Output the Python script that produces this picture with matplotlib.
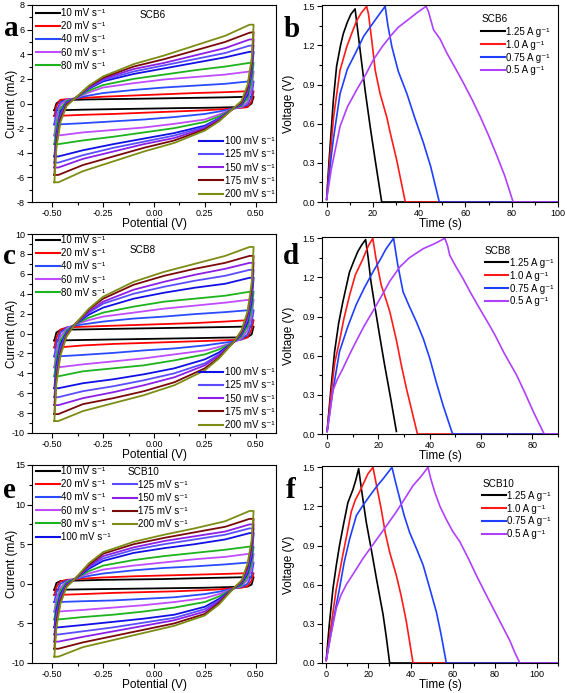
import matplotlib
matplotlib.use("Agg")
import matplotlib.pyplot as plt
from matplotlib.ticker import MultipleLocator, AutoMinorLocator, FormatStrFormatter
from matplotlib.lines import Line2D
from matplotlib.legend import Legend

plt.rcParams['font.family'] = ['Liberation Sans', 'DejaVu Sans']
plt.rcParams['axes.unicode_minus'] = False

# ---- CV data ----
rates = [10, 20, 40, 60, 80, 100, 125, 150, 175, 200]
cv_colors = ['black', '#ff0000', '#2a4bff', '#c04cff', '#1db31d',
             '#1010e6', '#5b4dff', '#8c1fe6', '#7a0a0a', '#7d8c14']

# potentials of the forward (upper) and reverse (lower) branch
E_up = [-0.49, -0.48, -0.46, -0.43, -0.39, -0.32, -0.25, -0.10, 0.05, 0.20, 0.35, 0.47]
E_dn = [0.49, 0.48, 0.46, 0.43, 0.39, 0.32, 0.25, 0.10, -0.05, -0.20, -0.35, -0.47]

# SCB6
cv_a_up = [
    [-0.55, 0.0, 0.25, 0.3, 0.3, 0.33, 0.35, 0.38, 0.42, 0.46, 0.5, 0.55],
    [-1.0, -0.2, 0.3, 0.35, 0.4, 0.48, 0.55, 0.65, 0.75, 0.85, 0.92, 1.0],
    [-1.7, -0.6, 0.1, 0.3, 0.4, 0.65, 0.85, 1.1, 1.3, 1.45, 1.6, 1.8],
    [-2.6, -1.2, -0.1, 0.3, 0.4, 0.9, 1.3, 1.65, 1.95, 2.15, 2.35, 2.6],
    [-3.3, -1.8, -0.4, 0.2, 0.4, 1.05, 1.5, 2.0, 2.35, 2.7, 3.0, 3.3],
    [-4.3, -2.5, -0.7, 0.1, 0.4, 1.2, 1.8, 2.4, 2.85, 3.3, 3.75, 4.2],
    [-4.8, -2.8, -0.9, 0.05, 0.4, 1.25, 1.9, 2.6, 3.1, 3.6, 4.1, 4.7],
    [-5.2, -3.0, -1.1, 0.0, 0.4, 1.3, 2.0, 2.8, 3.3, 3.9, 4.5, 5.2],
    [-5.8, -3.3, -1.3, -0.1, 0.4, 1.4, 2.1, 3.0, 3.6, 4.3, 5.0, 5.75],
    [-6.4, -3.6, -1.5, -0.2, 0.4, 1.45, 2.2, 3.2, 3.9, 4.7, 5.5, 6.4],
]
cv_a_dn = [
    [0.55, 0.0, -0.25, -0.3, -0.3, -0.33, -0.35, -0.38, -0.42, -0.46, -0.5, -0.55],
    [1.0, 0.2, -0.3, -0.35, -0.4, -0.48, -0.55, -0.65, -0.75, -0.85, -0.92, -1.0],
    [1.8, 0.6, -0.1, -0.3, -0.4, -0.65, -0.85, -1.1, -1.3, -1.45, -1.6, -1.7],
    [2.6, 1.2, 0.1, -0.3, -0.4, -0.9, -1.3, -1.65, -1.95, -2.15, -2.35, -2.6],
    [3.3, 1.8, 0.4, -0.2, -0.4, -1.05, -1.5, -2.0, -2.35, -2.7, -3.0, -3.3],
    [4.2, 2.5, 0.7, -0.1, -0.4, -1.2, -1.8, -2.4, -2.85, -3.3, -3.8, -4.3],
    [4.7, 2.8, 0.9, -0.05, -0.4, -1.25, -1.9, -2.6, -3.1, -3.6, -4.2, -4.8],
    [5.2, 3.0, 1.1, 0.0, -0.4, -1.3, -2.0, -2.8, -3.3, -3.9, -4.5, -5.2],
    [5.8, 3.3, 1.3, 0.1, -0.4, -1.4, -2.1, -3.0, -3.6, -4.3, -5.0, -5.8],
    [6.4, 3.6, 1.5, 0.2, -0.4, -1.45, -2.2, -3.2, -3.9, -4.7, -5.5, -6.4],
]

# SCB8
cv_c_up = [
    [-0.7, 0.1, 0.35, 0.4, 0.4, 0.42, 0.45, 0.5, 0.55, 0.6, 0.65, 0.7],
    [-1.4, -0.4, 0.4, 0.6, 0.65, 0.7, 0.75, 0.85, 0.95, 1.05, 1.2, 1.35],
    [-2.3, -1.0, 0.1, 0.6, 0.8, 1.0, 1.2, 1.5, 1.7, 1.95, 2.15, 2.35],
    [-3.4, -1.7, -0.3, 0.5, 0.9, 1.35, 1.7, 2.1, 2.5, 2.8, 3.1, 3.4],
    [-4.3, -2.4, -0.7, 0.3, 0.9, 1.6, 2.1, 2.7, 3.2, 3.5, 3.8, 4.2],
    [-5.5, -3.2, -1.1, 0.1, 0.9, 1.9, 2.6, 3.5, 4.1, 4.6, 5.0, 5.6],
    [-6.4, -3.7, -1.4, 0.0, 0.9, 2.1, 3.0, 4.0, 4.7, 5.3, 5.8, 6.4],
    [-7.2, -4.2, -1.7, -0.1, 0.9, 2.2, 3.2, 4.4, 5.2, 5.9, 6.5, 7.1],
    [-8.1, -4.6, -2.0, -0.2, 0.9, 2.4, 3.5, 4.9, 5.8, 6.5, 7.1, 7.8],
    [-8.8, -5.0, -2.2, -0.3, 0.9, 2.5, 3.7, 5.2, 6.2, 7.0, 7.8, 8.7],
]
cv_c_dn = [
    [0.7, -0.1, -0.35, -0.4, -0.4, -0.42, -0.45, -0.5, -0.55, -0.6, -0.65, -0.7],
    [1.35, 0.4, -0.4, -0.6, -0.65, -0.7, -0.75, -0.85, -0.95, -1.05, -1.2, -1.4],
    [2.35, 1.0, -0.1, -0.6, -0.8, -1.0, -1.2, -1.5, -1.7, -1.95, -2.15, -2.3],
    [3.4, 1.7, 0.3, -0.5, -0.9, -1.35, -1.7, -2.1, -2.5, -2.8, -3.1, -3.4],
    [4.2, 2.4, 0.7, -0.3, -0.9, -1.6, -2.1, -2.7, -3.2, -3.5, -3.8, -4.3],
    [5.6, 3.2, 1.1, -0.1, -0.9, -1.9, -2.6, -3.5, -4.1, -4.6, -5.0, -5.5],
    [6.4, 3.7, 1.4, 0.0, -0.9, -2.1, -3.0, -4.0, -4.7, -5.3, -5.8, -6.4],
    [7.1, 4.2, 1.7, 0.1, -0.9, -2.2, -3.2, -4.4, -5.2, -5.9, -6.5, -7.2],
    [7.8, 4.6, 2.0, 0.2, -0.9, -2.4, -3.5, -4.9, -5.8, -6.5, -7.1, -8.1],
    [8.7, 5.0, 2.2, 0.3, -0.9, -2.5, -3.7, -5.2, -6.2, -7.0, -7.8, -8.8],
]

# SCB10
cv_e_up = [
    [-0.75, 0.1, 0.35, 0.4, 0.4, 0.45, 0.5, 0.55, 0.6, 0.7, 0.78, 0.85],
    [-1.4, -0.4, 0.3, 0.5, 0.55, 0.7, 0.8, 0.95, 1.05, 1.15, 1.25, 1.35],
    [-2.3, -1.1, 0.0, 0.4, 0.6, 1.0, 1.3, 1.7, 2.0, 2.2, 2.45, 2.7],
    [-3.5, -1.9, -0.5, 0.3, 0.6, 1.3, 1.8, 2.3, 2.7, 3.1, 3.4, 3.8],
    [-4.5, -2.6, -0.9, 0.2, 0.6, 1.6, 2.3, 3.0, 3.5, 3.9, 4.3, 4.7],
    [-5.5, -3.3, -1.3, 0.0, 0.6, 1.9, 2.9, 3.9, 4.5, 5.0, 5.6, 6.4],
    [-6.4, -3.9, -1.6, -0.1, 0.6, 2.1, 3.2, 4.3, 5.0, 5.6, 6.2, 7.0],
    [-7.3, -4.4, -1.9, -0.2, 0.6, 2.2, 3.5, 4.6, 5.4, 6.0, 6.6, 7.5],
    [-8.2, -5.0, -2.2, -0.3, 0.6, 2.4, 3.8, 5.0, 5.8, 6.5, 7.2, 8.2],
    [-9.2, -5.5, -2.5, -0.4, 0.6, 2.6, 4.0, 5.3, 6.2, 7.0, 7.9, 9.2],
]
cv_e_dn = [
    [0.85, -0.1, -0.35, -0.4, -0.4, -0.45, -0.5, -0.55, -0.6, -0.65, -0.7, -0.75],
    [1.35, 0.4, -0.3, -0.5, -0.55, -0.7, -0.8, -0.95, -1.05, -1.15, -1.3, -1.4],
    [2.7, 1.1, 0.0, -0.4, -0.6, -1.0, -1.3, -1.7, -1.9, -2.1, -2.2, -2.3],
    [3.8, 1.9, 0.5, -0.3, -0.6, -1.3, -1.8, -2.3, -2.7, -3.0, -3.3, -3.5],
    [4.7, 2.6, 0.9, -0.2, -0.6, -1.6, -2.3, -3.0, -3.5, -3.9, -4.2, -4.5],
    [6.4, 3.3, 1.3, 0.0, -0.6, -1.9, -2.9, -3.9, -4.4, -4.8, -5.2, -5.5],
    [7.0, 3.9, 1.6, 0.1, -0.6, -2.1, -3.2, -4.3, -4.9, -5.5, -6.0, -6.4],
    [7.5, 4.4, 1.9, 0.2, -0.6, -2.2, -3.5, -4.6, -5.3, -6.0, -6.7, -7.3],
    [8.2, 5.0, 2.2, 0.3, -0.6, -2.4, -3.8, -5.0, -5.8, -6.6, -7.4, -8.2],
    [9.2, 5.5, 2.5, 0.4, -0.6, -2.6, -4.0, -5.3, -6.2, -7.1, -8.0, -9.2],
]

# ---- GCD data ----
gcd_labels = ['1.25 A g⁻¹', '1.0 A g⁻¹', '0.75 A g⁻¹', '0.5 A g⁻¹']
gcd_colors = ['black', '#ff1a1a', '#1f3fff', '#b040ff']

# SCB6
t_b = [
    [0, 1, 2, 2.9, 4.3, 6, 7.2, 9, 10.5, 12.3, 14.5, 16.6, 18.8, 21, 23.8, 100],
    [0, 1.5, 3, 5.8, 8.7, 11, 13, 15, 17.3, 18.1, 19.5, 21, 23.1, 26, 27.5, 30.3, 34, 100],
    [0, 2, 2.9, 5.8, 9, 13, 16, 18.8, 22, 25.3, 26.5, 28.2, 31, 34.7, 38, 41.9, 45, 48.7, 100],
    [0, 2, 5.8, 9, 13, 17, 20.2, 24, 27.5, 31, 34.7, 39, 43, 44, 46.2, 49, 52, 55.5,
     59.2, 63, 66.5, 70, 73.7, 77, 80.6, 100],
]
v_b = [
    [0.02, 0.3, 0.55, 0.78, 1.04, 1.2, 1.29, 1.38, 1.44, 1.48, 1.16, 0.86, 0.58, 0.32, 0.0, 0.0],
    [0.02, 0.35, 0.65, 1.01, 1.19, 1.3, 1.39, 1.45, 1.5, 1.44, 1.24, 1.01, 0.83, 0.65, 0.53, 0.32, 0.0, 0.0],
    [0.02, 0.35, 0.48, 0.83, 1.02, 1.16, 1.27, 1.34, 1.42, 1.5, 1.35, 1.19, 1.0, 0.83, 0.65, 0.45, 0.27, 0.0, 0.0],
    [0.02, 0.25, 0.58, 0.73, 0.86, 0.98, 1.09, 1.19, 1.27, 1.34, 1.39, 1.45, 1.5, 1.46, 1.32, 1.25,
     1.14, 1.03, 0.91, 0.78, 0.65, 0.51, 0.35, 0.2, 0.0, 0.0],
]

# SCB8
t_d = [
    [0, 1.5, 2.9, 4.5, 6.1, 8.7, 10.5, 12, 13.5, 15, 16, 17, 18.5, 20.5, 22.4, 24.8, 27],
    [0, 1.5, 3, 4.8, 6.5, 8.7, 11, 13.9, 16, 17.8, 19, 21.1, 22.8, 24.4, 27, 29, 30.9, 33, 35.2, 90],
    [0, 2, 4.8, 8, 11.3, 14.5, 17.8, 20.5, 23, 25.9, 27.5, 29.6, 32, 34.8, 37.5, 40, 42.5, 45.2, 48.9, 90],
    [0, 1, 2.2, 4, 6.1, 8.5, 11.3, 14.5, 17.8, 21, 24.4, 28.3, 32, 37.4, 42, 45.9, 47, 47.8, 50,
     53, 56, 59.5, 62.5, 65.4, 69, 73.9, 77, 80.4, 84.6, 90],
]
v_d = [
    [0.02, 0.35, 0.63, 0.85, 1.01, 1.24, 1.33, 1.4, 1.45, 1.49, 1.35, 1.18, 0.99, 0.75, 0.53, 0.27, 0.02],
    [0.02, 0.3, 0.55, 0.71, 0.88, 1.06, 1.22, 1.34, 1.44, 1.5, 1.35, 1.14, 1.04, 0.94, 0.72, 0.52, 0.35, 0.18, 0.0, 0.0],
    [0.02, 0.3, 0.63, 0.82, 0.99, 1.12, 1.24, 1.33, 1.42, 1.5, 1.3, 1.09, 0.98, 0.86, 0.73, 0.58, 0.4, 0.22, 0.0, 0.0],
    [0.02, 0.15, 0.33, 0.42, 0.5, 0.6, 0.71, 0.83, 0.94, 1.05, 1.17, 1.28, 1.35, 1.42, 1.46, 1.5, 1.44,
     1.37, 1.29, 1.19, 1.08, 0.96, 0.86, 0.76, 0.62, 0.45, 0.32, 0.17, 0.0, 0.0],
]

# SCB10
t_f = [
    [0, 1.5, 3.2, 4.8, 6.3, 8.3, 10.3, 12.7, 14, 15.4, 17, 19, 21.5, 23.8, 25.5, 27, 28.5, 30.1, 110],
    [0, 2, 4.8, 6.5, 7.9, 10, 11.9, 13.8, 15.8, 17.8, 19.8, 22.2, 24, 26.1, 28, 30.1, 31.7, 33.3,
     35.5, 38, 40, 41.2, 110],
    [0, 2, 4, 6.3, 8.5, 11.1, 14.3, 17.5, 20.6, 23.8, 26.9, 31.2, 33, 34.9, 37, 39.6, 43, 46, 49,
     52.3, 54.5, 57, 110],
    [0, 2, 4.8, 7, 9.5, 13.5, 17.4, 21.4, 25.4, 29.4, 33.3, 37.3, 41.2, 45, 48.3, 49.5, 51.5, 54, 57,
     60, 63.4, 67.5, 71.3, 76, 80.8, 84, 87.2, 89.5, 91.9, 110],
]
v_f = [
    [0.02, 0.3, 0.57, 0.75, 0.9, 1.07, 1.23, 1.33, 1.4, 1.49, 1.3, 1.08, 0.86, 0.65, 0.5, 0.37, 0.2, 0.0, 0.0],
    [0.02, 0.25, 0.57, 0.71, 0.83, 1.0, 1.16, 1.25, 1.31, 1.38, 1.45, 1.5, 1.35, 1.18, 1.0, 0.85, 0.76,
     0.67, 0.52, 0.32, 0.12, 0.0, 0.0],
    [0.02, 0.2, 0.38, 0.57, 0.77, 0.95, 1.13, 1.21, 1.28, 1.35, 1.41, 1.5, 1.38, 1.26, 1.13, 1.0, 0.87,
     0.75, 0.58, 0.39, 0.22, 0.0, 0.0],
    [0.02, 0.2, 0.42, 0.52, 0.6, 0.7, 0.8, 0.89, 0.98, 1.07, 1.16, 1.26, 1.36, 1.43, 1.5, 1.42, 1.31,
     1.2, 1.1, 1.01, 0.93, 0.8, 0.67, 0.52, 0.37, 0.27, 0.17, 0.08, 0.0, 0.0],
]

W, H = 567, 693
fig = plt.figure(figsize=(W / 100, H / 100), dpi=100)


def box(left, top, right, bottom):
    return [left / W, 1 - bottom / H, (right - left) / W, (bottom - top) / H]


def style(ax):
    for s in ['top', 'right', 'left', 'bottom']:
        ax.spines[s].set_linewidth(0.8)
    ax.tick_params(which='both', direction='out', top=False, right=False,
                   labelsize=6.5, width=0.8, pad=1.5)
    ax.tick_params(which='major', length=3.5)
    ax.tick_params(which='minor', length=2)


def cv_panel(ax, up, dn, ylim, ystep, name, name_pos):
    for i in range(len(rates)):
        xs = E_up + E_dn + [E_up[0]]
        ys = up[i] + dn[i] + [up[i][0]]
        ax.plot(xs, ys, color=cv_colors[i], lw=1.3, solid_joinstyle='round')
    ax.set_xlim(-0.6, 0.6)
    ax.set_ylim(*ylim)
    ax.xaxis.set_major_locator(MultipleLocator(0.25))
    ax.xaxis.set_major_formatter(FormatStrFormatter('%.2f'))
    ax.xaxis.set_minor_locator(AutoMinorLocator(2))
    ax.yaxis.set_major_locator(MultipleLocator(ystep))
    ax.yaxis.set_minor_locator(AutoMinorLocator(2))
    ax.set_xlabel('Potential (V)', fontsize=8.5, labelpad=0)
    ax.set_ylabel('Current (mA)', fontsize=8.5)
    ax.yaxis.set_label_coords(-0.057, 0.5)
    style(ax)
    ax.text(name_pos[0], name_pos[1], name, transform=ax.transAxes, fontsize=7.2,
            ha='left', va='center')


def add_legend(ax, idx, loc, anchor):
    h = [Line2D([], [], color=cv_colors[i], lw=1.5) for i in idx]
    l = ['%d mV s⁻¹' % rates[i] for i in idx]
    leg = Legend(ax, h, l, loc=loc, bbox_to_anchor=anchor, frameon=False, fontsize=7,
                 handlelength=2.5, handletextpad=0.15, labelspacing=0.33,
                 borderpad=0, borderaxespad=0)
    ax.add_artist(leg)


def gcd_panel(ax, ts, vs, xlim, name, name_pos, leg_top):
    for i in range(4):
        ax.plot(ts[i], vs[i], color=gcd_colors[i], lw=1.2)
    ax.set_xlim(*xlim)
    ax.set_ylim(0, 1.51)
    ax.xaxis.set_major_locator(MultipleLocator(20))
    ax.xaxis.set_minor_locator(AutoMinorLocator(2))
    ax.yaxis.set_major_locator(MultipleLocator(0.3))
    ax.yaxis.set_major_formatter(FormatStrFormatter('%.1f'))
    ax.yaxis.set_minor_locator(AutoMinorLocator(2))
    ax.set_xlabel('Time (s)', fontsize=8.5, labelpad=0)
    ax.set_ylabel('Voltage (V)', fontsize=8.5)
    ax.yaxis.set_label_coords(-0.114, 0.5)
    style(ax)
    ax.text(name_pos[0], name_pos[1], name, transform=ax.transAxes, fontsize=7.2,
            ha='left', va='center')
    h = [Line2D([], [], color=c, lw=1.5) for c in gcd_colors]
    leg = Legend(ax, h, gcd_labels, loc='upper left', bbox_to_anchor=(name_pos[0], leg_top),
                 frameon=False, fontsize=7, handlelength=2.4, handletextpad=0.15,
                 labelspacing=0.3, borderpad=0, borderaxespad=0)
    ax.add_artist(leg)


# a
ax_a = fig.add_axes(box(32, 5, 276, 202))
cv_panel(ax_a, cv_a_up, cv_a_dn, (-8, 8), 2, 'SCB6', (0.44, 0.95))
add_legend(ax_a, range(0, 5), 'upper left', (0.015, 0.985))
add_legend(ax_a, range(5, 10), 'lower left', (0.685, 0.015))

# b
ax_b = fig.add_axes(box(322, 5, 558, 202))
gcd_panel(ax_b, t_b, v_b, (-2, 100), 'SCB6', (0.675, 0.93), 0.89)

# c
ax_c = fig.add_axes(box(32, 234, 276, 433))
cv_panel(ax_c, cv_c_up, cv_c_dn, (-10, 10), 2, 'SCB8', (0.40, 0.92))
add_legend(ax_c, range(0, 5), 'upper left', (0.015, 0.995))
add_legend(ax_c, range(5, 10), 'lower left', (0.685, 0.015))

# d
ax_d = fig.add_axes(box(322, 237, 558, 434))
gcd_panel(ax_d, t_d, v_d, (-2, 90), 'SCB8', (0.69, 0.93), 0.895)

# e
ax_e = fig.add_axes(box(32, 465, 276, 663))
cv_panel(ax_e, cv_e_up, cv_e_dn, (-10, 15), 5, 'SCB10', (0.39, 0.965))
add_legend(ax_e, range(0, 6), 'upper left', (0.015, 0.995))
add_legend(ax_e, range(6, 10), 'upper left', (0.33, 0.925))

# f
ax_f = fig.add_axes(box(322, 466, 558, 663))
gcd_panel(ax_f, t_f, v_f, (-2, 110), 'SCB10', (0.68, 0.91), 0.875)

# panel letters
letters = [('a', 4, 36), ('b', 284, 37), ('c', 3, 264), ('d', 283, 264),
           ('e', 3, 498), ('f', 286, 498)]
for s, x, y in letters:
    fig.text(x / W, 1 - y / H, s, fontsize=21, fontweight='bold',
             family='Liberation Serif', ha='left', va='baseline')

fig.savefig('out.png', dpi=100)
